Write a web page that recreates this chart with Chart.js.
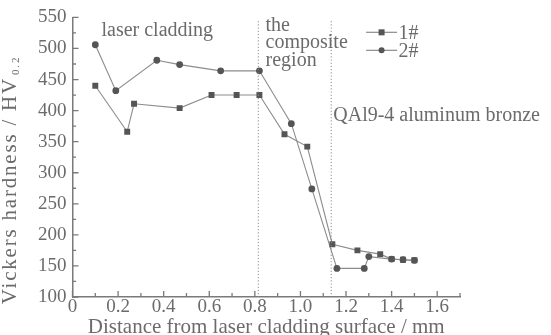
<!DOCTYPE html>
<html>
<head>
<meta charset="utf-8">
<script src="https://cdn.jsdelivr.net/npm/chart.js@4"></script>
<style>
  html, body { margin: 0; padding: 0; background: #fff; }
</style>
</head>
<body>
<canvas id="chart" width="551" height="335"></canvas>
<script>
// sample 1# (squares)
const dist1 = [0.10, 0.24, 0.27, 0.47, 0.61, 0.72, 0.82, 0.93, 1.03, 1.14, 1.25, 1.35, 1.40, 1.45, 1.50];
const hv1 = [440, 366, 411, 404, 425, 425, 425, 362, 342, 185, 175, 169, 161, 160, 159];
// sample 2# (circles)
const dist2 = [0.10, 0.19, 0.37, 0.47, 0.65, 0.82, 0.96, 1.05, 1.16, 1.28, 1.30, 1.40, 1.45, 1.50];
const hv2 = [506, 432, 481, 474, 464, 464, 379, 274, 146, 146, 165, 161, 160, 159];

const xTicks = [0, 0.2, 0.4, 0.6, 0.8, 1.0, 1.2, 1.4, 1.6];
const yTicks = [100, 150, 200, 250, 300, 350, 400, 450, 500, 550];
const regionEdges = [0.815, 1.135];

const TEXT = "#6b6b6b";
const AXIS = "#7a7a7a";
const SERIF = "'Liberation Serif', 'DejaVu Serif', serif";

const toPoints = (xs, ys) => xs.map((x, i) => ({ x, y: ys[i] }));

// extra drawing: inside ticks, dotted region lines, notes, legend, y title
const extras = {
  id: "extras",
  afterDraw(chart) {
    const { ctx, chartArea } = chart;
    const xs = chart.scales.x, ys = chart.scales.y;
    const px = v => xs.getPixelForValue(v);
    const py = v => ys.getPixelForValue(v);
    ctx.save();

    // inner tick marks
    ctx.strokeStyle = AXIS;
    ctx.lineWidth = 1.3;
    ctx.beginPath();
    for (let i = 0; i <= 18; i++) {
      const v = 100 + i * 25;
      const len = i % 2 === 0 ? 6 : 3.5;
      ctx.moveTo(chartArea.left, py(v));
      ctx.lineTo(chartArea.left + len, py(v));
    }
    for (let i = 0; i <= 17; i++) {
      const v = i / 10;
      const len = i % 2 === 0 ? 6 : 4;
      ctx.moveTo(px(v), chartArea.bottom);
      ctx.lineTo(px(v), chartArea.bottom - len);
    }
    ctx.stroke();

    // dotted region boundaries
    ctx.strokeStyle = "#8a8a8a";
    ctx.lineWidth = 1;
    ctx.setLineDash([1.2, 2]);
    regionEdges.forEach(e => {
      ctx.beginPath();
      ctx.moveTo(px(e), py(544));
      ctx.lineTo(px(e), chartArea.bottom);
      ctx.stroke();
    });
    ctx.setLineDash([]);

    // region notes
    ctx.fillStyle = TEXT;
    ctx.font = "20px " + SERIF;
    ctx.textAlign = "left";
    ctx.textBaseline = "alphabetic";
    ctx.fillText("laser cladding", px(0.127), py(520));
    ctx.fillText("the", px(0.847), py(528));
    ctx.fillText("composite", px(0.847), py(500));
    ctx.fillText("region", px(0.847), py(472));
    ctx.fillText("QAl9-4 aluminum bronze", px(1.144), py(384));

    // legend
    const rows = [
      { label: "1#", ds: chart.data.datasets[0], yv: 526 },
      { label: "2#", ds: chart.data.datasets[1], yv: 497 }
    ];
    rows.forEach(r => {
      const y = py(r.yv);
      ctx.strokeStyle = r.ds.borderColor;
      ctx.lineWidth = 1.2;
      ctx.beginPath();
      ctx.moveTo(px(1.288), y);
      ctx.lineTo(px(1.424), y);
      ctx.stroke();
      ctx.fillStyle = r.ds.pointBackgroundColor;
      const mx = px(1.356);
      if (r.ds.pointStyle === "rect") {
        ctx.fillRect(mx - 3, y - 3, 6, 6);
      } else {
        ctx.beginPath();
        ctx.arc(mx, y, 3, 0, Math.PI * 2);
        ctx.fill();
      }
      ctx.fillStyle = TEXT;
      ctx.font = "20px " + SERIF;
      ctx.textBaseline = "middle";
      ctx.fillText(r.label, px(1.43), y + 1);
    });

    // y axis title with subscript (stretched like the scanned original)
    ctx.save();
    ctx.translate(16, 180);
    ctx.rotate(-Math.PI / 2);
    ctx.fillStyle = TEXT;
    ctx.textBaseline = "alphabetic";
    if ("letterSpacing" in ctx) ctx.letterSpacing = "1.8px";
    const main = "Vickers hardness / HV";
    ctx.font = "21px " + SERIF;
    const w1 = ctx.measureText(main).width;
    ctx.font = "11px " + SERIF;
    const w2 = ctx.measureText("0.2").width;
    const start = -(w1 + w2 + 2) / 2;
    ctx.font = "21px " + SERIF;
    ctx.textAlign = "left";
    ctx.fillText(main, start, 0);
    ctx.font = "11px " + SERIF;
    ctx.fillText("0.2", start + w1 + 2, 3);
    ctx.restore();

    ctx.restore();
  }
};

new Chart(document.getElementById("chart"), {
  type: "line",
  data: {
    datasets: [
      {
        label: "1#",
        data: toPoints(dist1, hv1),
        borderColor: "#8c8c8c",
        borderWidth: 1.1,
        pointStyle: "rect",
        pointRadius: 4.2,
        pointBackgroundColor: "#555",
        pointBorderWidth: 0,
        tension: 0,
        fill: false
      },
      {
        label: "2#",
        data: toPoints(dist2, hv2),
        borderColor: "#8c8c8c",
        borderWidth: 1.1,
        pointStyle: "circle",
        pointRadius: 3.4,
        pointBackgroundColor: "#555",
        pointBorderWidth: 0,
        tension: 0,
        fill: false
      }
    ]
  },
  options: {
    responsive: false,
    animation: false,
    layout: { padding: { left: 32, right: 91, top: 0, bottom: -2 } },
    plugins: {
      legend: { display: false },
      tooltip: { enabled: false }
    },
    scales: {
      x: {
        type: "linear",
        min: 0,
        max: 1.7,
        afterBuildTicks: s => { s.ticks = xTicks.map(v => ({ value: v })); },
        grid: { display: true, drawOnChartArea: false, drawTicks: false, color: "rgba(0,0,0,0)" },
        border: { display: true, color: AXIS, width: 1.5 },
        ticks: {
          padding: 1,
          color: TEXT,
          font: { family: SERIF, size: 19, lineHeight: 0.95 },
          callback: v => (v === 0 ? "0" : v.toFixed(1))
        },
        title: {
          display: true,
          text: "Distance from laser cladding surface / mm",
          color: TEXT,
          font: { family: SERIF, size: 21, lineHeight: 0.95 },
          padding: { top: 0, bottom: 0 }
        }
      },
      y: {
        min: 100,
        max: 550,
        afterBuildTicks: s => { s.ticks = yTicks.map(v => ({ value: v })); },
        grid: { display: true, drawOnChartArea: false, drawTicks: false, color: "rgba(0,0,0,0)" },
        border: { display: true, color: AXIS, width: 1.5 },
        ticks: {
          padding: 6,
          color: TEXT,
          font: { family: SERIF, size: 19 }
        }
      }
    }
  },
  plugins: [extras]
});
</script>
</body>
</html>
